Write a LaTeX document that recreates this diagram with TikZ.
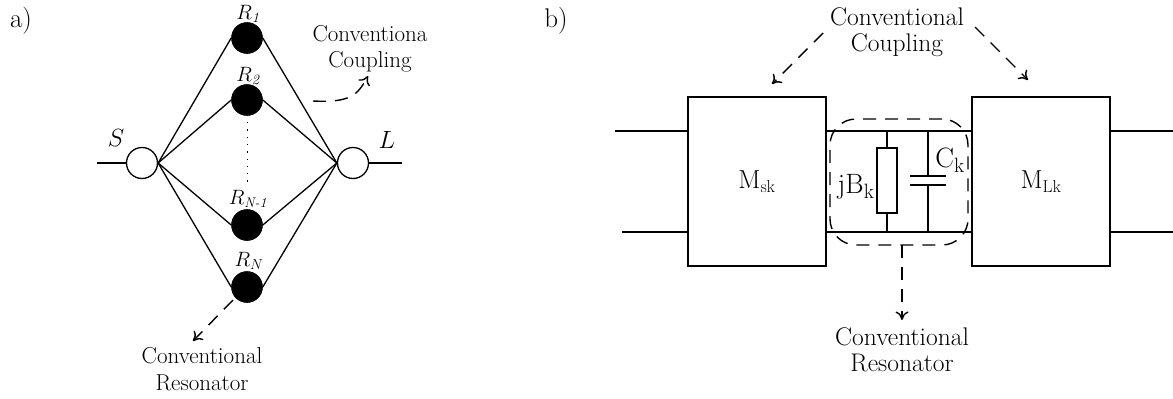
\documentclass[tikz,border=0pt]{standalone}
\usetikzlibrary{shapes.geometric,arrows.meta}
\tikzset{
  wire/.style={line width=1.3pt},
  dash1/.style={line width=1.4pt,dash pattern=on 13pt off 9pt},
  tipped/.style={dash1,-{Computer Modern Rightarrow[length=8.5pt,width=13pt,line width=1.4pt]}},
  res/.style={circle,fill=black,draw=black,inner sep=0pt,minimum size=31pt,line width=.6pt},
  port/.style={circle,fill=white,draw=black,inner sep=0pt,minimum size=31pt,line width=1.3pt},
  mbox/.style={rectangle,draw=black,line width=1.3pt,minimum width=138pt,minimum height=169pt,inner sep=0pt,font=\fontsize{26}{28}\selectfont},
  rlabel/.style={inner sep=0pt,font=\fontsize{21}{22}\selectfont},
  bigtxt/.style={inner sep=0pt,align=center,font=\fontsize{23}{26.5}\selectfont},
  bigtxtb/.style={inner sep=0pt,align=center,font=\fontsize{25.5}{26.5}\selectfont},
  pl/.style={inner sep=0pt,font=\fontsize{27}{28}\selectfont},
  el/.style={inner sep=0pt,font=\fontsize{28}{28}\selectfont}
}
\begin{document}
\begin{tikzpicture}[x=1pt,y=-1pt]
\useasboundingbox (0,0) rectangle (1173,399);
% panel a
\node[pl] (la) at (21,21) {a)};
\node[res] (r1) at (247,38) {};
\node[res] (r2) at (247,100) {};
\node[res] (r3) at (247,225) {};
\node[res] (r4) at (247,287) {};
\node[port] (s) at (142,163) {};
\node[port] (l) at (353,163) {};
\coordinate (sw) at (97,163);
\coordinate (le) at (402,163);
\draw[wire] (sw) -- (s);
\draw[wire] (l) -- (le);
\foreach \n in {r1,r2,r3,r4}{
  \draw[wire] (s.east) -- (\n.west);
  \draw[wire] (l.west) -- (\n.east);
}
\coordinate (d1) at (247,122);
\coordinate (d2) at (247,183);
\draw[line width=1pt,dash pattern=on 1.3pt off 6pt] (d1) -- (d2);
\node[rlabel] (t1) at (249,14) {$R_{\mathit{1}}$};
\node[rlabel] (t2) at (249,76) {$R_{\mathit{2}}$};
\node[rlabel] (t3) at (248,199) {$R_{\mbox{\fontsize{14}{14}\selectfont\itshape N-1}}$};
\node[rlabel] (t4) at (249,261) {$R_{N}$};
\node[pl] (ts) at (116,138) {$S$};
\node[pl] (tl) at (387,140) {$L$};
\node[bigtxt] (cc) at (370,49) {Conventiona\\Coupling};
\coordinate (c0) at (313,101);
\coordinate (c1) at (368,76);
\draw[tipped] (c0) .. controls (352,103) and (358,94) .. (c1);
\node[bigtxt] (cr) at (202,369) {Conventional\\Resonator};
\coordinate (q) at (193,341);
\draw[tipped] (233,300) -- (q);
% panel b
\node[pl] (lb) at (556,21) {b)};
\node[mbox] (ms) at (757,181.5) {M$_{\mathrm{sk}}$};
\node[mbox] (ml) at (1041,181.5) {M$_{\mathrm{Lk}}$};
\coordinate (a1) at (615,131); \coordinate (a2) at (688,131);
\coordinate (a3) at (622,232); \coordinate (a4) at (688,232);
\coordinate (b1) at (1110,131); \coordinate (b2) at (1173,131);
\coordinate (b3) at (1110,232); \coordinate (b4) at (1173,232);
\draw[wire] (a1) -- (a2);
\draw[wire] (a3) -- (a4);
\draw[wire] (b1) -- (b2);
\draw[wire] (b3) -- (b4);
\coordinate (tl1) at (826,131); \coordinate (tr1) at (972,131);
\coordinate (bl1) at (826,232); \coordinate (br1) at (972,232);
\draw[wire] (tl1) -- (tr1);
\draw[wire] (bl1) -- (br1);
\node[rectangle,draw=black,fill=white,line width=1.3pt,minimum width=20pt,minimum height=65pt,inner sep=0pt] (rb) at (887,180.5) {};
\coordinate (rt) at (887,131); \coordinate (rbb) at (887,232);
\draw[wire] (rt) -- (rb.north);
\draw[wire] (rb.south) -- (rbb);
\coordinate (ct) at (928,131); \coordinate (cu) at (928,176);
\coordinate (cd) at (928,185); \coordinate (cb) at (928,232);
\draw[wire] (ct) -- (cu);
\draw[wire] (cd) -- (cb);
\coordinate (p1) at (910,176); \coordinate (p2) at (946,176);
\coordinate (p3) at (910,185); \coordinate (p4) at (946,185);
\draw[wire] (p1) -- (p2);
\draw[wire] (p3) -- (p4);
\node[el,anchor=base] (jb) at (856,193) {jB$_{\mathrm{k}}$};
\node[el,anchor=base] (ck) at (950,167) {C$_{\mathrm{k}}$};
\node[rectangle,draw=black,rounded corners=26pt,line width=1.4pt,dash pattern=on 13pt off 9pt,minimum width=138pt,minimum height=126pt,inner sep=0pt] (grp) at (899,182) {};
\node[bigtxtb] (cb1) at (897,32) {Conventional\\Coupling};
\coordinate (e1) at (823,33); \coordinate (e2) at (772,84);
\coordinate (f1) at (975,27); \coordinate (f2) at (1028,80);
\draw[tipped] (e1) -- (e2);
\draw[tipped] (f1) -- (f2);
\node[bigtxtb] (cb2) at (902,350) {Conventional\\Resonator};
\coordinate (g1) at (902,245); \coordinate (g2) at (902,320);
\draw[tipped] (g1) -- (g2);
\end{tikzpicture}
\end{document}
